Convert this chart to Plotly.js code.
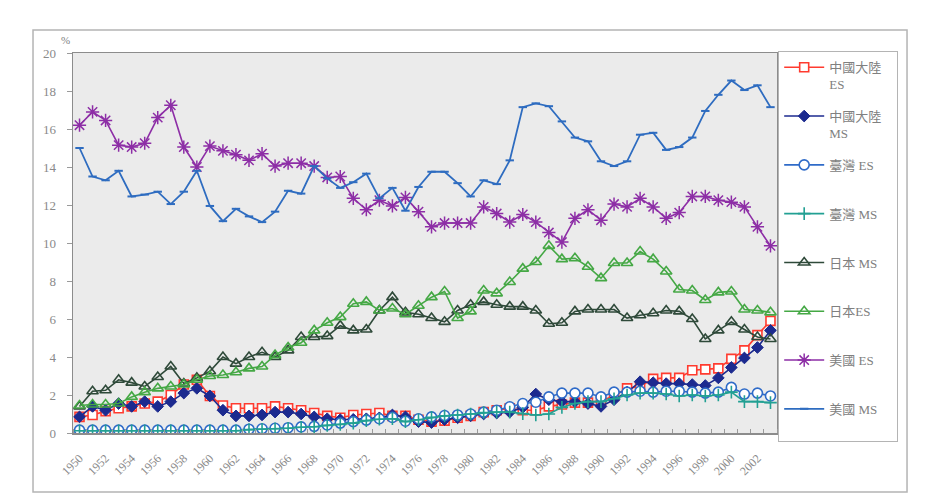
<!DOCTYPE html>
<html>
<head>
<meta charset="utf-8">
<script src="https://cdn.plot.ly/plotly-3.0.1.min.js"></script>
<style>html,body{margin:0;padding:0;background:#fff;}#chart{width:939px;height:496px;}</style>
</head>
<body>
<div id="chart"></div>
<script>
// Years 1950-2003
const years = [];
for (let y = 1950; y <= 2003; y++) years.push(y);
const tickYears = [1950,1952,1954,1956,1958,1960,1962,1964,1966,1968,1970,1972,1974,1976,1978,1980,1982,1984,1986,1988,1990,1992,1994,1996,1998,2000,2002];

const chinaES = [0.85,0.95,1.15,1.3,1.4,1.55,1.65,2.0,2.55,2.8,
  1.95,1.45,1.3,1.3,1.3,1.4,1.3,1.2,1.05,0.9,
  0.8,0.95,1.0,1.05,0.9,0.9,0.7,0.6,0.65,0.8,
  0.9,1.1,1.2,1.3,1.2,1.2,1.4,1.5,1.6,1.6,
  1.7,1.95,2.35,2.45,2.85,2.9,2.9,3.3,3.35,3.4,
  3.9,4.35,5.15,5.9];
const chinaMS = [0.85,1.4,1.2,1.55,1.4,1.65,1.4,1.65,2.1,2.35,
  1.95,1.2,0.9,0.9,0.95,1.1,1.1,1.0,0.85,0.75,
  0.7,0.72,0.75,0.8,0.95,0.85,0.6,0.55,0.7,0.8,
  0.9,1.0,1.05,1.1,1.35,2.05,1.75,1.65,1.65,1.55,
  1.4,1.75,2.15,2.7,2.65,2.6,2.6,2.55,2.5,2.9,
  3.45,3.95,4.5,5.4];
const taiwanES = [0.15,0.15,0.15,0.15,0.15,0.15,0.15,0.15,0.15,0.15,
  0.15,0.15,0.15,0.2,0.22,0.25,0.28,0.32,0.35,0.42,
  0.52,0.6,0.68,0.75,0.82,0.62,0.75,0.85,0.92,0.95,
  1.0,1.1,1.2,1.38,1.55,1.62,1.9,2.1,2.1,2.1,
  1.9,2.15,2.15,2.2,2.15,2.2,2.2,2.15,2.1,2.15,
  2.4,2.05,2.1,1.95];
const taiwanMS = [0.12,0.12,0.12,0.12,0.12,0.12,0.12,0.12,0.12,0.12,
  0.12,0.12,0.12,0.18,0.2,0.22,0.25,0.3,0.33,0.4,
  0.45,0.52,0.65,0.72,0.75,0.6,0.7,0.82,0.9,0.95,
  1.0,1.08,1.1,1.1,1.02,0.95,1.0,1.35,1.55,1.65,
  1.65,1.8,2.0,2.1,2.1,2.05,1.95,2.0,1.95,2.0,
  2.15,1.65,1.65,1.6];
const japanMS = [1.4,2.2,2.25,2.8,2.65,2.45,2.95,3.5,2.6,2.9,
  3.25,4.0,3.65,4.0,4.25,4.0,4.35,5.05,5.05,5.1,
  5.65,5.4,5.45,6.45,7.15,6.35,6.25,6.05,5.85,6.45,
  6.75,6.9,6.75,6.65,6.65,6.45,5.75,5.8,6.4,6.5,
  6.5,6.5,6.05,6.2,6.3,6.45,6.4,6.0,4.95,5.4,
  5.85,5.45,5.05,4.95];
const japanES = [1.45,1.5,1.5,1.55,1.9,2.15,2.35,2.45,2.55,2.8,
  3.0,3.05,3.2,3.4,3.5,4.1,4.5,4.75,5.4,5.8,
  6.1,6.8,6.9,6.45,6.55,6.25,6.7,7.15,7.45,6.05,
  6.4,7.5,7.35,7.95,8.65,9.0,9.85,9.15,9.2,8.75,
  8.15,8.95,8.95,9.55,9.15,8.5,7.55,7.5,7.0,7.4,
  7.45,6.5,6.45,6.35];
const usES = [16.2,16.9,16.45,15.15,15.05,15.25,16.6,17.25,15.05,14.0,
  15.1,14.85,14.65,14.35,14.7,14.05,14.2,14.2,14.05,13.45,
  13.5,12.35,11.75,12.25,11.95,12.4,11.65,10.85,11.05,11.05,
  11.05,11.9,11.55,11.1,11.5,11.1,10.55,10.05,11.3,11.75,
  11.2,12.05,11.9,12.35,11.9,11.3,11.6,12.45,12.45,12.25,
  12.15,11.9,10.85,9.85];
const usMS = [15.0,13.5,13.3,13.8,12.45,12.55,12.7,12.05,12.7,13.8,
  11.95,11.15,11.8,11.4,11.1,11.65,12.75,12.6,14.05,13.4,
  12.9,13.2,13.65,12.35,12.9,11.7,12.95,13.75,13.75,13.15,
  12.45,13.3,13.1,14.35,17.15,17.35,17.2,16.4,15.55,15.35,
  14.3,14.05,14.3,15.7,15.8,14.9,15.05,15.55,16.95,17.8,
  18.55,18.05,18.3,17.15];

const names = ['中國大陸\u00a0\u00a0\u00a0<br>ES','中國大陸<br>MS','臺灣 ES<br>\u00a0','臺灣 MS<br>\u00a0','日本 MS<br>\u00a0','日本ES<br>\u00a0','美國 ES<br>\u00a0','美國 MS<br>\u00a0'];

function tr(y, name, color, symbol, size, fill, lw, mlw, grp) {
  return {
    x: years, y: y, name: name, type: 'scatter', mode: 'lines+markers',
    legendgroup: grp,
    line: {color: color, width: lw},
    marker: {symbol: symbol, size: size, color: fill, line: {color: color, width: mlw}}
  };
}

const data = [
  tr(chinaES, names[0], '#ff3b2f', 'square', 9, '#ffffff', 1.6, 1.6, 'a'),
  tr(chinaMS, names[1], '#1c2a8f', 'diamond', 9, '#1c2a8f', 1.6, 1, 'b'),
  tr(taiwanES, names[2], '#2f6bc8', 'circle', 10, '#ffffff', 1.6, 1.6, 'c'),
  tr(taiwanMS, names[3], '#22a093', 'cross-thin-open', 9, '#22a093', 1.6, 1.6, 'd'),
  tr(japanMS, names[4], '#2f4a3a', 'triangle-up-open', 10, '#2f4a3a', 1.6, 1.6, 'e'),
  tr(japanES, names[5], '#45a845', 'triangle-up-open', 10, '#45a845', 1.6, 1.6, 'f'),
  tr(usES, names[6], '#8d2ea6', 'asterisk-open', 11, '#8d2ea6', 1.6, 1.5, 'g'),
  tr(usMS, names[7], '#2e6cc0', 'line-ew-open', 6, '#2e6cc0', 1.8, 2, 'h')
];

const fontFam = 'Liberation Serif, "Noto Sans CJK TC", serif';
const layout = {
  width: 939, height: 496,
  margin: {l: 73, r: 162, t: 53, b: 63},
  paper_bgcolor: '#ffffff',
  plot_bgcolor: '#ebebeb',
  showlegend: true,
  font: {family: fontFam, color: '#7a7a7a', size: 13},
  xaxis: {
    range: [1949.5, 2003.5],
    tickmode: 'array', tickvals: tickYears, ticktext: tickYears.map(String),
    tickangle: -45, tickfont: {size: 12, color: '#8a8a8a'},
    ticks: '', ticklabelstandoff: 12, showgrid: false, zeroline: false,
    showline: true, linecolor: '#8c8c8c', linewidth: 1.5, mirror: true,
    minor: {tick0: 1949.5, dtick: 1, ticks: 'inside', ticklen: 4, tickcolor: '#9a9a9a', showgrid: false}
  },
  yaxis: {
    range: [0, 20], dtick: 2, tick0: 0,
    ticks: 'outside', ticklen: 5, tickcolor: '#9a9a9a',
    ticklabelstandoff: 8,
    tickfont: {size: 13, color: '#8a8a8a'},
    showgrid: false, zeroline: false,
    showline: true, linecolor: '#8c8c8c', linewidth: 1.5, mirror: true
  },
  legend: {
    x: 1.0014, xanchor: 'left', y: 1.005, yanchor: 'top',
    bgcolor: '#ffffff', bordercolor: '#b4b4b4', borderwidth: 1.2,
    font: {family: fontFam, size: 13, color: '#808080'},
    valign: 'top', tracegroupgap: 12, itemwidth: 40, traceorder: 'grouped',
    maxheight: 440
  },
  annotations: [{
    xref: 'paper', yref: 'paper', x: -0.02, y: 1.012, xanchor: 'left', yanchor: 'bottom',
    text: '%', showarrow: false, font: {family: fontFam, size: 11, color: '#808080'}
  }],
  shapes: [{
    type: 'rect', xref: 'paper', yref: 'paper',
    x0: -0.0568, x1: 1.1847, y0: -0.155, y1: 1.0605,
    line: {color: '#b4b4b4', width: 1.5}, fillcolor: 'rgba(0,0,0,0)', layer: 'below'
  }]
};

Plotly.newPlot('chart', data, layout, {displayModeBar: false, staticPlot: true});
</script>
</body>
</html>
